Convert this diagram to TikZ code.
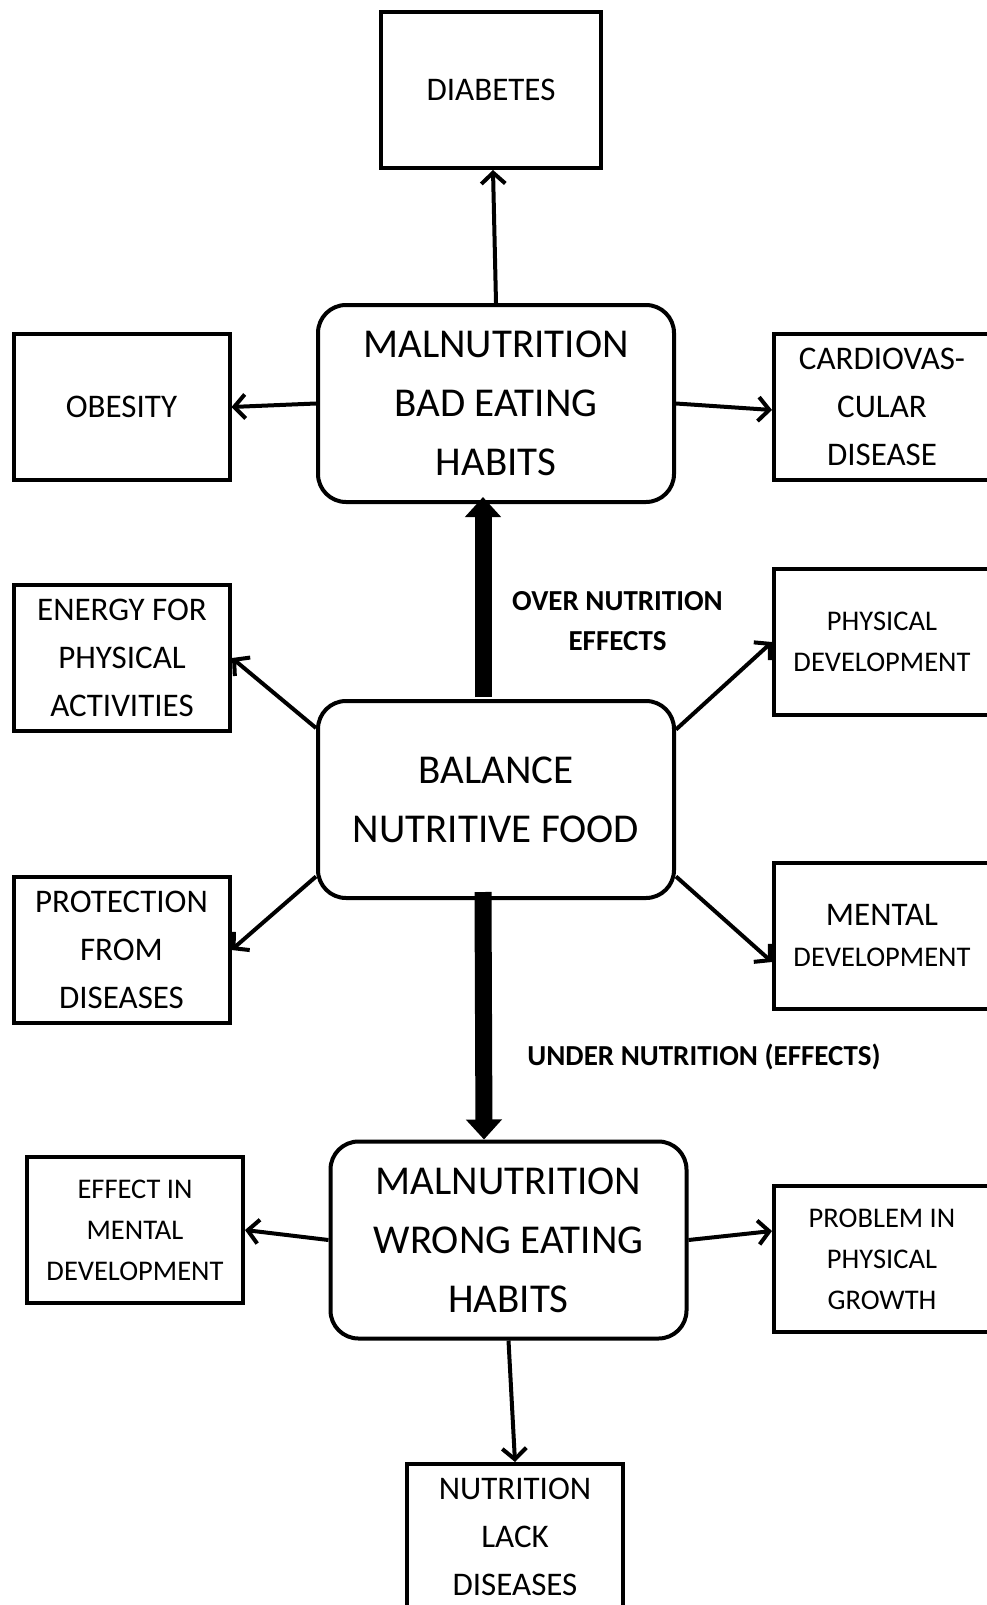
\documentclass[tikz,border=0pt]{standalone}
\usepackage{fontspec}
\setmainfont{Carlito}
\usetikzlibrary{arrows.meta}
\begin{document}
\begin{tikzpicture}[x=1pt,y=-1pt,
  box/.style={draw, line width=4pt, minimum width=216pt, minimum height=146pt, inner sep=0pt, align=center, font=\fontsize{33}{48}\selectfont},
  smallbox/.style={box, font=\fontsize{28.5}{41}\selectfont},
  bigbox/.style={draw, line width=4pt, rounded corners=28pt, minimum width=356pt, minimum height=197pt, inner sep=0pt, align=center, font=\fontsize{41}{59}\selectfont},
  link/.style={line width=4pt, -{Straight Barb[length=11pt,width=24pt,line width=4pt 0]}},
  fatarrow/.style={line width=17pt, -{Triangle[length=20pt,width=35pt]}},
  lbl/.style={font=\bfseries\fontsize{29}{40}\selectfont, align=center, inner sep=0pt}
]
\useasboundingbox (0,0) rectangle (987,1605);

% central column
\node[bigbox] (top) at (496,403.5) {MALNUTRITION\\BAD EATING\\HABITS};
\node[bigbox] (bal) at (496,799.5) {BALANCE\\NUTRITIVE FOOD};
\node[bigbox] (bot) at (508.5,1240) {MALNUTRITION\\WRONG EATING\\HABITS};

% outer boxes
\node[box, minimum width=220pt, minimum height=156pt] (diab) at (491,90) {DIABETES};
\node[box] (obes) at (121.5,407) {OBESITY};
\node[box] (card) at (882,407) {CARDIOVAS-\\CULAR\\DISEASE};
\node[box] (ener) at (122,658) {ENERGY FOR\\PHYSICAL\\ACTIVITIES};
\node[smallbox] (phys) at (882,642) {PHYSICAL\\DEVELOPMENT};
\node[box] (prot) at (121.5,950) {PROTECTION\\FROM\\DISEASES};
\node[smallbox] (ment) at (882,936) {{\fontsize{33}{41}\selectfont MENTAL}\\DEVELOPMENT};
\node[smallbox] (effe) at (135,1230) {EFFECT IN\\MENTAL\\DEVELOPMENT};
\node[smallbox] (prob) at (882,1259) {PROBLEM IN\\PHYSICAL\\GROWTH};
\node[box] (nutr) at (515,1537) {NUTRITION\\LACK\\DISEASES};

% labels
\node[lbl] (over) at (617.5,621) {OVER NUTRITION\\EFFECTS};
\node[lbl, anchor=base] (under) at (704,1065) {UNDER NUTRITION (EFFECTS)};

% thick arrows
\draw[fatarrow] ([xshift=-13pt,yshift=2pt]bal.north) -- ([xshift=-13pt,yshift=7pt]top.south);
\draw[fatarrow] ([xshift=-13pt,yshift=8pt]bal.south) -- ([xshift=-24.5pt]bot.north);

% thin arrows
\draw[link] (top.north) -- ([xshift=2pt]diab.south);
\draw[link] (top.west) -- (obes.east);
\draw[link] (top.east) -- ([yshift=-3pt]card.west);
\draw[link] ([yshift=71.5pt]bal.west) -- (ener.east);
\draw[link] ([yshift=70pt]bal.east) -- (phys.west);
\draw[link] ([yshift=-77pt]bal.west) -- (prot.east);
\draw[link] ([yshift=-77pt]bal.east) -- ([yshift=-26pt]ment.west);
\draw[link] (bot.west) -- (effe.east);
\draw[link] (bot.east) -- ([yshift=28pt]prob.west);
\draw[link] (bot.south) -- (nutr.north);
\end{tikzpicture}
\end{document}
